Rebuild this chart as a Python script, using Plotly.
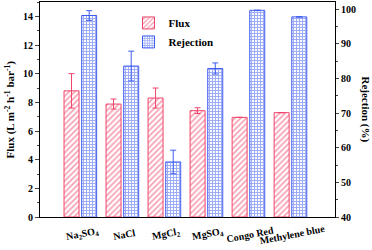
import plotly.graph_objects as go

categories = ["Na<sub>2</sub>SO<sub>4</sub>", "NaCl", "MgCl<sub>2</sub>", "MgSO<sub>4</sub>", "Congo Red", "Methylene blue"]
flux = [8.8, 7.88, 8.3, 7.42, 6.95, 7.28]
flux_err = [1.2, 0.35, 0.7, 0.2, 0, 0]
rejection = [98.2, 83.6, 55.9, 82.9, 99.7, 97.8]
rejection_err = [1.4, 4.3, 3.4, 1.6, 0, 0]

RED = "#f0456a"
BLUE = "#3f5cf0"
FONT = "Liberation Serif"

fig = go.Figure()
fig.add_trace(go.Bar(
    x=categories, y=flux, name="Flux",
    marker=dict(color="white", line=dict(color=RED, width=1),
                pattern=dict(shape="/", fgcolor=RED, bgcolor="white", size=4, solidity=0.45)),
    error_y=dict(type="data", array=flux_err, color=RED, thickness=1, width=3),
    yaxis="y", offsetgroup="a",
))
fig.add_trace(go.Bar(
    x=categories, y=rejection, name="Rejection",
    marker=dict(color="white", line=dict(color=BLUE, width=1),
                pattern=dict(shape="+", fgcolor=BLUE, bgcolor="white", size=3, solidity=0.6)),
    error_y=dict(type="data", array=rejection_err, color=BLUE, thickness=1, width=3),
    yaxis="y2", offsetgroup="b",
))

# rotated category labels, centred under each category
cat_labels = [
    dict(text=c, xref="x", yref="paper", x=c, y=0, xanchor="center", yanchor="middle",
         xshift=2, yshift=-17, textangle=-11, showarrow=False,
         font=dict(family=FONT, size=10, weight="bold"))
    for c in categories
]

fig.update_layout(
    width=372, height=250,
    margin=dict(l=40, r=37, t=2, b=33),
    paper_bgcolor="white", plot_bgcolor="white",
    font=dict(family=FONT, size=10, color="black", weight="bold"),
    barmode="group", bargap=0.16, bargroupgap=0.15,
    showlegend=True,
    legend=dict(x=0.30, y=0.97, xanchor="left", yanchor="top",
                font=dict(family=FONT, size=11, weight="bold"),
                bgcolor="rgba(0,0,0,0)", tracegroupgap=6),
    xaxis=dict(range=[-0.96, 6.06], showline=True, linecolor="black", linewidth=1,
               mirror=True, ticks="", showticklabels=False, showgrid=False),
    yaxis=dict(range=[0, 15], dtick=2, showline=True, linecolor="black", linewidth=1,
               ticks="outside", ticklen=4, showgrid=False, zeroline=False,
               minor=dict(dtick=1, ticks="outside", ticklen=2),
               tickfont=dict(family=FONT, size=10, weight="bold")),
    yaxis2=dict(range=[40, 102.1], dtick=10, overlaying="y", side="right",
                showline=True, linecolor="black", linewidth=1,
                ticks="outside", ticklen=3, showgrid=False, zeroline=False,
                minor=dict(dtick=5, ticks="outside", ticklen=2),
                tickfont=dict(family=FONT, size=10, weight="bold")),
    annotations=cat_labels + [
        dict(text="Flux (L m<sup>-2</sup> h<sup>-1</sup> bar<sup>-1</sup>)",
             xref="paper", yref="paper", x=0, xshift=-30, y=0.5, xanchor="center", yanchor="middle",
             textangle=-90, showarrow=False, font=dict(family=FONT, size=11, weight="bold")),
        dict(text="Rejection (%)",
             xref="paper", yref="paper", x=1, xshift=30, y=0.5, xanchor="center", yanchor="middle",
             textangle=90, showarrow=False, font=dict(family=FONT, size=11, weight="bold")),
    ],
)

fig.write_html("out.html", config={"displayModeBar": False},
               post_script="document.body.style.margin='0';")
